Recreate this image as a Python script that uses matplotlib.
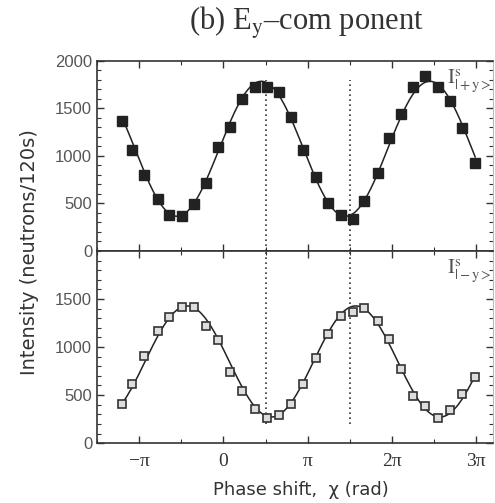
import numpy as np
import matplotlib
matplotlib.use("Agg")
import matplotlib.pyplot as plt
from matplotlib.ticker import MultipleLocator, FixedLocator

plt.rcParams['mathtext.fontset'] = 'stix'

# phase shift of each measurement, in units of pi
chi_pi = [-1.206, -1.079, -0.940, -0.782, -0.647, -0.492, -0.353, -0.202, -0.060, 0.083,
          0.222, 0.373, 0.520, 0.663, 0.806, 0.948, 1.099, 1.238, 1.393, 1.540,
          1.671, 1.829, 1.968, 2.107, 2.254, 2.397, 2.544, 2.694, 2.833, 2.988]

# |+y> intensities (top panel)
plus_y = [1365, 1065, 799, 543, 378, 368, 497, 718, 1096, 1306,
          1604, 1730, 1730, 1674, 1405, 1065, 774, 501, 378, 340,
          525, 820, 1184, 1440, 1730, 1842, 1720, 1573, 1289, 928]

# |-y> intensities (bottom panel)
minus_y = [404, 620, 905, 1166, 1312, 1417, 1413, 1218, 1072, 738,
           546, 352, 261, 289, 411, 613, 888, 1131, 1319, 1364,
           1406, 1274, 1079, 773, 494, 383, 261, 348, 515, 686]
minus_err = 28

# fitted sinusoids: offset, amplitude, phase of maximum (units of pi)
fit_plus = (1075, 710, 0.45)
fit_minus = (850, 578, -0.43)

x_ticks = [-1, 0, 1, 2, 3]
x_labels = ["\u2212\u03c0", "0", "\u03c0", "2\u03c0", "3\u03c0"]
guide_lines = [0.5, 1.5]

fig = plt.figure(figsize=(4.95, 5.03), dpi=100)
ax1 = fig.add_axes([0.196, 0.501, 0.800, 0.378])
ax2 = fig.add_axes([0.196, 0.119, 0.800, 0.382])

x = np.array(chi_pi) * np.pi
xx = np.linspace(x[0], x[-1], 400)

dark = '#222222'
ax1.plot(xx, fit_plus[0] + fit_plus[1] * np.cos(xx - fit_plus[2] * np.pi), color=dark, lw=1.1)
ax1.plot(x, plus_y, 's', color=dark, markersize=7.5, zorder=3)

ax2.plot(xx, fit_minus[0] + fit_minus[1] * np.cos(xx - fit_minus[2] * np.pi), color=dark, lw=1.1)
ax2.errorbar(x, minus_y, yerr=minus_err, fmt='s', color='#333333', mfc='#dddddd', mec='#333333',
             markersize=5.5, mew=1.2, elinewidth=0.9, capsize=1.5, zorder=3)

for g in guide_lines:
    ax1.axvline(g * np.pi, ymin=0, ymax=0.9, color='#333333', lw=1.2, ls=(0, (1, 2)))
    ax2.axvline(g * np.pi, ymin=0.1, ymax=1, color='#333333', lw=1.2, ls=(0, (1, 2)))

for ax in (ax1, ax2):
    ax.set_xlim(-1.5 * np.pi, 3.2 * np.pi)
    ax.set_ylim(0, 2000)
    ax.xaxis.set_major_locator(FixedLocator([t * np.pi for t in x_ticks]))
    ax.xaxis.set_minor_locator(MultipleLocator(np.pi / 2))
    ax.yaxis.set_major_locator(MultipleLocator(500))
    ax.yaxis.set_minor_locator(MultipleLocator(100))
    ax.tick_params(which='both', direction='in', top=True, right=True, colors='#333333')
    ax.tick_params(which='major', length=5, width=1.0)
    ax.tick_params(which='minor', length=3, width=0.8)
    ax.tick_params(axis='y', labelsize=12, labelcolor='#555555')
    ax.tick_params(axis='x', pad=7)
    for s in ('left', 'bottom', 'top'):
        ax.spines[s].set_color('#333333')
        ax.spines[s].set_linewidth(1.2)
    ax.spines['right'].set_color('#bbbbbb')
    ax.spines['right'].set_linewidth(0.8)

ax1.set_xticklabels([])
ax1.set_yticks([0, 500, 1000, 1500, 2000])
ax2.set_yticks([0, 500, 1000, 1500])
ax2.set_xticklabels(x_labels, fontfamily='Liberation Serif', fontsize=14, color='#333333')
for lab in ax1.get_yticklabels() + ax2.get_yticklabels():
    lab.set_fontfamily('Liberation Sans')

ax1.text(0.885, 0.965, r"$\mathrm{I}^{\mathrm{s}}_{|+\mathrm{y}>}$", transform=ax1.transAxes,
         ha='left', va='top', fontsize=15, color='#555555')
ax2.text(0.885, 0.965, r"$\mathrm{I}^{\mathrm{s}}_{|-\mathrm{y}>}$", transform=ax2.transAxes,
         ha='left', va='top', fontsize=15, color='#555555')

fig.text(0.618, 0.954, "(b) E$_{\\mathrm{y}}$\u2013com ponent",
         ha='center', va='center', fontsize=22, fontfamily='Liberation Serif', color='#333333')
fig.text(0.06, 0.499, "Intensity (neutrons/120s)", rotation=90, ha='center', va='center',
         fontsize=14, fontfamily='DejaVu Sans', color='#333333')
fig.text(0.608, 0.026, "Phase shift,  \u03c7 (rad)", ha='center', va='center',
         fontsize=13, fontfamily='DejaVu Sans', color='#333333')

fig.savefig("out.png", dpi=100)
